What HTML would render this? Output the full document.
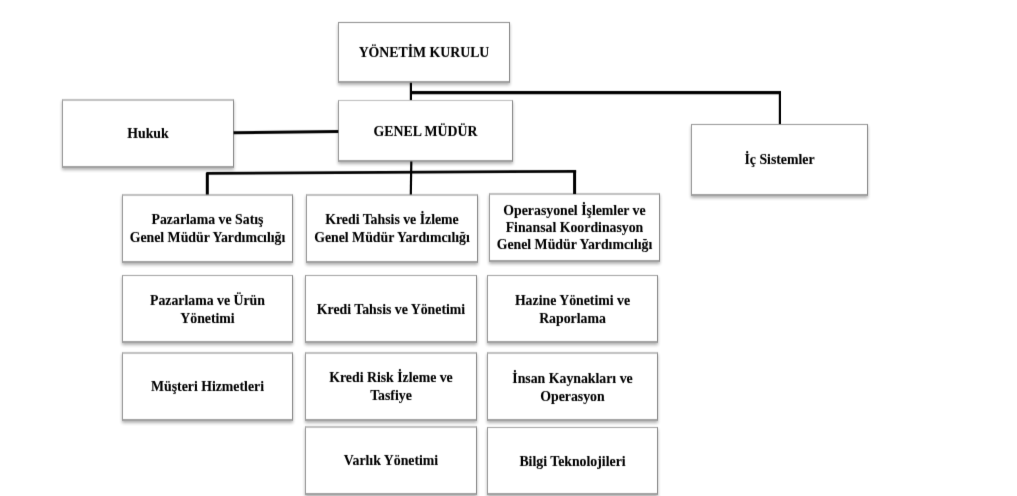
<!DOCTYPE html>
<html><head><meta charset="utf-8">
<style>
html,body{margin:0;padding:0;background:#fff;}
body{width:1017px;height:496px;position:relative;overflow:hidden;font-family:"Liberation Serif",serif;font-weight:bold;color:#000;}
#w{position:absolute;left:0;top:0;width:1017px;height:496px;background:#fff;filter:url(#f);}
.b{position:absolute;box-sizing:border-box;border:1px solid #808080;border-left-color:#9a9a9a;border-right-color:#8a8a8a;border-bottom:2px solid #a0a0a0;background:#fff;box-shadow:0 2px 3px rgba(0,0,0,0.3);display:flex;align-items:center;justify-content:center;text-align:center;font-size:13.8px;line-height:17.2px;white-space:nowrap;}
.b span{position:relative;-webkit-text-stroke:0.1px #000;}
svg.l{position:absolute;left:0;top:0;z-index:1;}
</style></head><body>
<svg width="0" height="0" style="position:absolute"><filter id="f" x="0" y="0" width="100%" height="100%" color-interpolation-filters="sRGB"><feConvolveMatrix order="3" kernelMatrix="0.0072 0.1056 0.0072 0.0456 0.6688 0.0456 0.0072 0.1056 0.0072" edgeMode="duplicate"/></filter></svg>
<div id="w">
<svg class="l" width="1017" height="496" viewBox="0 0 1017 496">
<g stroke="#000" fill="none" stroke-linecap="butt">
<line x1="410.9" y1="82.8" x2="410.9" y2="100" stroke-width="2.2"/>
<line x1="410.2" y1="92.55" x2="781" y2="92.55" stroke-width="3.2"/>
<line x1="779.9" y1="91.3" x2="779.9" y2="124" stroke-width="2.2"/>
<line x1="233.6" y1="132.7" x2="338.3" y2="131.5" stroke-width="3"/>
<line x1="411.3" y1="161.5" x2="410.8" y2="194.5" stroke-width="2.2"/>
<line x1="206.4" y1="173.35" x2="576.1" y2="171.3" stroke-width="2.8"/>
<line x1="207.3" y1="172.8" x2="207.3" y2="194.5" stroke-width="3"/>
<line x1="574.6" y1="170" x2="574.6" y2="194" stroke-width="3"/>
</g>
</svg>
<div class="b" style="left:338px;top:22px;width:172px;height:61px;border-top:1px solid #8d8d8d;"><span style="top:1px;left:0px">YÖNETİM KURULU</span></div>
<div class="b" style="left:338px;top:100px;width:175px;height:62px;border-top:1px solid #bcbcbc;"><span style="top:1px;left:0px">GENEL MÜDÜR</span></div>
<div class="b" style="left:62px;top:99px;width:172px;height:69px;border-top:2px solid #c0c0c0;"><span>Hukuk</span></div>
<div class="b" style="left:691px;top:124px;width:177px;height:72px;border-top:1px solid #979797;"><span>İç Sistemler</span></div>
<div class="b" style="left:122px;top:194px;width:171px;height:69px;border-top:2px solid #c0c0c0;"><span>Pazarlama ve Satış<br>Genel Müdür Yardımcılığı</span></div>
<div class="b" style="left:306px;top:194px;width:172px;height:69px;border-top:2px solid #c0c0c0;"><span>Kredi Tahsis ve İzleme<br>Genel Müdür Yardımcılığı</span></div>
<div class="b" style="left:489px;top:193px;width:171px;height:69px;border-top:2px solid #c0c0c0;"><span>Operasyonel İşlemler ve<br>Finansal Koordinasyon<br>Genel Müdür Yardımcılığı</span></div>
<div class="b" style="left:122px;top:275px;width:171px;height:68px;border-top:1px solid #a2a2a2;"><span style="top:1px;left:0px">Pazarlama ve Ürün<br>Yönetimi</span></div>
<div class="b" style="left:305px;top:275px;width:172px;height:68px;border-top:1px solid #a2a2a2;"><span style="top:1px;left:0px">Kredi Tahsis ve Yönetimi</span></div>
<div class="b" style="left:487px;top:275px;width:171px;height:68px;border-top:1px solid #a2a2a2;"><span style="top:1px;left:0px">Hazine Yönetimi ve<br>Raporlama</span></div>
<div class="b" style="left:122px;top:352px;width:171px;height:69px;border-top:2px solid #c0c0c0;"><span>Müşteri Hizmetleri</span></div>
<div class="b" style="left:305px;top:352px;width:172px;height:69px;border-top:2px solid #c0c0c0;"><span>Kredi Risk İzleme ve<br>Tasfiye</span></div>
<div class="b" style="left:487px;top:352px;width:171px;height:69px;border-top:2px solid #c0c0c0;"><span style="top:1px;left:0px">İnsan Kaynakları ve<br>Operasyon</span></div>
<div class="b" style="left:305px;top:426px;width:172px;height:69px;border-top:2px solid #c0c0c0;"><span>Varlık Yönetimi</span></div>
<div class="b" style="left:487px;top:427px;width:171px;height:68px;border-top:1px solid #a2a2a2;"><span style="top:1px;left:0px">Bilgi Teknolojileri</span></div>
</div>
</body></html>
